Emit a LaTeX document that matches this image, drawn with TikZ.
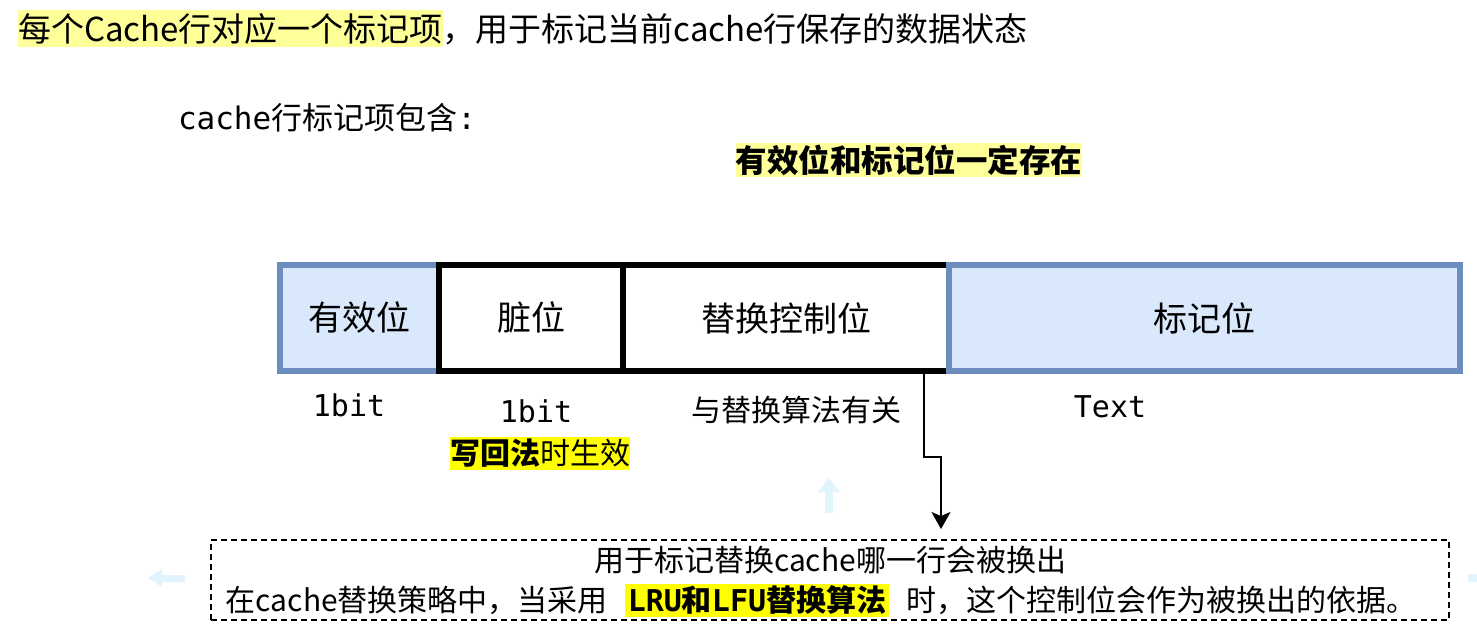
\documentclass[tikz,border=0pt]{standalone}
\usepackage{fontspec}
\setmainfont{Noto Sans CJK SC}
\newfontfamily\monof{DejaVu Sans Mono}
\usetikzlibrary{arrows.meta}
\definecolor{paleY}{HTML}{FFFF99}
\definecolor{brightY}{HTML}{FFFF00}
\definecolor{blueFill}{HTML}{DAE8FC}
\definecolor{blueLine}{HTML}{6C8EBF}
\definecolor{ghost}{HTML}{E1F3FD}
\newcommand\hlbox[2]{{\setlength{\fboxsep}{0pt}\colorbox{#1}{\rule[-0.16em]{0pt}{1.1em}#2}}}
\newcommand\fs[1]{\fontsize{#1}{#1}\selectfont}
\begin{document}
\begin{tikzpicture}[x=1pt,y=-1pt,
  txt/.style={inner sep=0pt, outer sep=0pt},
  bluefield/.style={draw=blueLine, fill=blueFill, line width=5.5pt, minimum height=106pt, inner sep=0pt, font=\fs{34}},
  blackfield/.style={draw=black, fill=white, line width=5.5pt, minimum height=106pt, inner sep=0pt, font=\fs{34}},
  conn/.style={line width=1.8pt, -{Stealth[length=17pt,width=19pt,inset=4pt]}},
  notebox/.style={draw=black, dash pattern=on 6pt off 4pt, line width=1.9pt, minimum width=1238pt, minimum height=80pt, inner sep=0pt},
  ghostarrow/.style={fill=ghost, draw=none}
]
\useasboundingbox (0,0) rectangle (1477,634);
\fill[white] (0,0) rectangle (1477,634);

\node[txt, anchor=west, font=\fs{33}] (title) at (18,28.5) {\hlbox{paleY}{每个Cache行对应一个标记项}，用于标记当前cache行保存的数据状态};
\node[txt, anchor=west, font=\fs{31}] (sub) at (178,118) {{\monof cache}行标记项包含{\monof :}};
\node[txt, font=\fs{31.5}\bfseries] (must) at (909,160) {\hlbox{paleY}{有效位和标记位一定存在}};

\node[bluefield, minimum width=159pt] (valid) at (359.5,318) {有效位};
\node[blackfield, minimum width=184pt] (dirty) at (531,318) {脏位};
\node[blackfield, minimum width=326pt] (repl) at (786,318) {替换控制位};
\node[bluefield, minimum width=511pt] (tag) at (1204.5,318) {标记位};

\node[txt, font=\fs{30}\monof] (b1) at (349,405) {1bit};
\node[txt, font=\fs{30}\monof] (b2) at (536,411) {1bit};
\node[txt, font=\fs{30}] (alg) at (796,410) {与替换算法有关};
\node[txt, font=\fs{30}\monof] (textlbl) at (1110,407) {Text};
\node[txt, font=\fs{30}] (wb) at (540,453) {\hlbox{brightY}{\textbf{写回法}时生效}};

\node[notebox] (note) at (830,580) {};
\node[txt, font=\fs{30}] (n1) at (830,560) {用于标记替换cache哪一行会被换出};
\node[txt, font=\fs{30}] (n2) at (821,600) {在cache替换策略中，当采用\hspace{17pt}\hlbox{brightY}{\hspace{3pt}\textbf{{\monof LRU}和{\monof LFU}替换算法}\hspace{3pt}}\hspace{17pt}时，这个控制位会作为被换出的依据。};

\coordinate (k1) at (924,457);
\coordinate (k2) at (941,457);
\draw[conn, shorten >=10pt] (repl.south -| k1) -- (k1) -- (k2) -- (note.north -| k2);

\fill[ghostarrow] (829,478) -- (840,492) -- (833,492) -- (833,513) -- (825,513) -- (825,492) -- (818,492) -- cycle;
\fill[ghostarrow] (148,578) -- (162,569) -- (162,575) -- (185,575) -- (185,582) -- (162,582) -- (162,587) -- cycle;
\fill[ghostarrow] (1468,574) rectangle (1477,582);
\end{tikzpicture}
\end{document}
